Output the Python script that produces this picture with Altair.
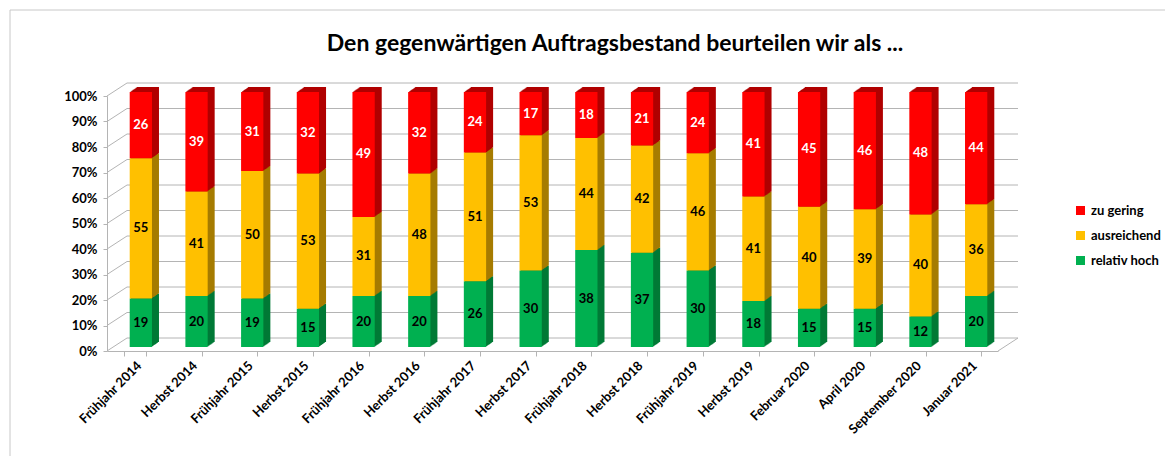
import altair as alt
import pandas as pd

# ---------------- data ----------------
categories = ["Frühjahr 2014", "Herbst 2014", "Frühjahr 2015", "Herbst 2015",
              "Frühjahr 2016", "Herbst 2016", "Frühjahr 2017", "Herbst 2017",
              "Frühjahr 2018", "Herbst 2018", "Frühjahr 2019", "Herbst 2019",
              "Februar 2020", "April 2020", "September 2020", "Januar 2021"]
relativ_hoch = [19, 20, 19, 15, 20, 20, 26, 30, 38, 37, 30, 18, 15, 15, 12, 20]
ausreichend = [55, 41, 50, 53, 31, 48, 51, 53, 44, 42, 46, 41, 40, 39, 40, 36]
zu_gering = [26, 39, 31, 32, 49, 32, 24, 17, 18, 21, 24, 41, 45, 46, 48, 44]
series_names = ["relativ hoch", "ausreichend", "zu gering"]
legend_order = ["zu gering", "ausreichend", "relativ hoch"]
y_ticks = [0, 10, 20, 30, 40, 50, 60, 70, 80, 90, 100]
title_text = "Den gegenwärtigen Auftragsbestand beurteilen wir als ..."

# ---------------- style ----------------
FONT = "Lato"
FRONT = {"zu gering": "#FF0000", "ausreichend": "#FFC000", "relativ hoch": "#00B050"}
SIDE = {"zu gering": "#B00000", "ausreichend": "#A67C00", "relativ hoch": "#007A36"}
GRID = "#B4B4B4"
W, H = 891, 255
DX, DY = 20, -13          # depth of the back wall
BAR_DX, BAR_DY = 6, -4    # bar front face position in depth
EXT_DX, EXT_DY = 7, -5    # bar extrusion

rows = []
for i, cat in enumerate(categories):
    vals = [relativ_hoch[i], ausreichend[i], zu_gering[i]]
    total = sum(vals)
    cum = 0
    for s, v in zip(series_names, vals):
        y0 = cum / total * 100
        y1 = (cum + v) / total * 100
        cum += v
        rows.append({"cat": cat, "series": s, "v": v, "y0": y0, "y1": y1,
                     "mid": (y0 + y1) / 2, "side": SIDE[s]})
df = pd.DataFrame(rows)
ticks_df = pd.DataFrame({"t": y_ticks})

xscale = alt.Scale(domain=categories, paddingInner=0.6, paddingOuter=0.3)
yscale = alt.Scale(domain=[0, 100], nice=False)

xaxis = alt.Axis(title=None, labelAngle=-45, labelFont=FONT, labelFontWeight="bold",
                 labelFontSize=13, labelColor="#000000", domainColor=GRID,
                 tickColor=GRID, tickSize=5, tickBand="extent", labelPadding=3,
                 grid=False)
yaxis = alt.Axis(title=None, values=y_ticks, labelExpr="datum.value + '%'",
                 labelFont=FONT, labelFontWeight="bold", labelFontSize=13,
                 labelColor="#000000", domainColor=GRID, tickColor=GRID,
                 tickSize=4, labelPadding=6, grid=False)

X = alt.X("cat:N", sort=categories, scale=xscale, axis=xaxis)

dummy = pd.DataFrame({"a": [0]})
border_top = alt.Chart(dummy).mark_rule(color="#C8C8C8").encode(
    x=alt.value(-97), x2=alt.value(W + 167), y=alt.value(-86))
border_left = alt.Chart(dummy).mark_rule(color="#C8C8C8").encode(
    x=alt.value(-97), y=alt.value(-86), y2=alt.value(H + 105))

title = alt.Chart(pd.DataFrame({"title": [title_text]})).mark_text(
    font=FONT, fontSize=23, fontWeight="bold", color="#000000",
    align="center", baseline="middle").encode(
    x=alt.value(508), y=alt.value(-52), text="title:N")

grid = alt.Chart(ticks_df).mark_rule(color=GRID, yOffset=DY, y2Offset=DY).encode(
    x=alt.value(DX), x2=alt.value(W + DX),
    y=alt.Y("t:Q", scale=yscale, axis=yaxis), y2="t:Q")
diag = alt.Chart(ticks_df).mark_rule(color=GRID, y2Offset=DY).encode(
    x=alt.value(0), x2=alt.value(DX),
    y=alt.Y("t:Q", scale=yscale, axis=yaxis), y2="t:Q")
floor_right = alt.Chart(pd.DataFrame({"t": [0]})).mark_rule(color=GRID, y2Offset=DY).encode(
    x=alt.value(W), x2=alt.value(W + DX),
    y=alt.Y("t:Q", scale=yscale, axis=yaxis), y2="t:Q")

layers = [border_top, border_left, title, grid, diag, floor_right]

for k in range(EXT_DX, 0, -1):
    ox = BAR_DX + k
    oy = BAR_DY + k * EXT_DY / EXT_DX
    layers.append(
        alt.Chart(df).mark_bar(xOffset=ox, x2Offset=ox, yOffset=oy, y2Offset=oy).encode(
            x=X, y=alt.Y("y1:Q", scale=yscale, axis=yaxis), y2="y0:Q",
            fill=alt.Fill("side:N", scale=None))
    )

front = alt.Chart(df).mark_bar(xOffset=BAR_DX, x2Offset=BAR_DX,
                               yOffset=BAR_DY, y2Offset=BAR_DY).encode(
    x=X, y=alt.Y("y1:Q", scale=yscale, axis=yaxis), y2="y0:Q",
    color=alt.Color("series:N",
                    scale=alt.Scale(domain=legend_order,
                                    range=[FRONT[s] for s in legend_order]),
                    legend=alt.Legend(title=None, orient="none", legendX=967,
                                      legendY=108, symbolType="square",
                                      symbolSize=81, symbolStrokeWidth=0,
                                      labelFont=FONT, labelFontWeight="bold",
                                      labelFontSize=13, labelColor="#000000",
                                      rowPadding=11, padding=0, labelOffset=4,
                                      labelLimit=200)))
layers.append(front)

labels = alt.Chart(df).mark_text(font=FONT, fontWeight="bold", fontSize=13,
                                 xOffset=BAR_DX, yOffset=BAR_DY).encode(
    x=X, y=alt.Y("mid:Q", scale=yscale, axis=yaxis), text="v:Q",
    color=alt.condition(alt.datum.series == "zu gering",
                        alt.value("#FFFFFF"), alt.value("#000000")))
layers.append(labels)

chart = alt.layer(*layers).properties(
    width=W, height=H,
    padding={"left": 99, "top": 88, "right": 167, "bottom": 105},
    autosize=alt.AutoSizeParams(type="none"),
).configure_view(stroke=None)

chart.save("out.html", embed_options={"renderer": "svg", "actions": False})
